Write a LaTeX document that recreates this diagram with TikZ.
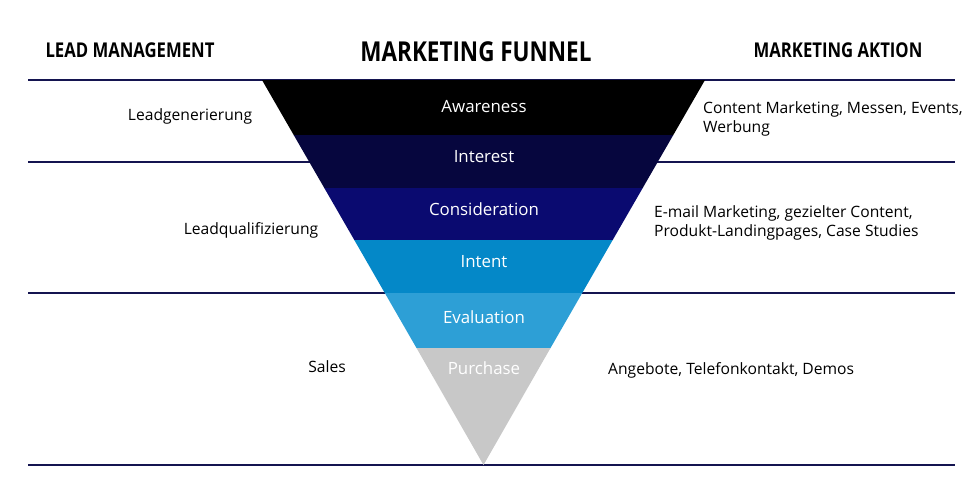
\documentclass[tikz,border=0pt]{standalone}
\usepackage{fontspec}
\setmainfont{Open Sans}
\newfontfamily\headfont[FakeStretch=0.82]{Open Sans Bold}
\usetikzlibrary{positioning}
\definecolor{rule}{RGB}{20,20,80}
\definecolor{awareness}{RGB}{0,0,0}
\definecolor{interest}{RGB}{6,6,62}
\definecolor{consider}{RGB}{10,10,112}
\definecolor{intent}{RGB}{4,136,200}
\definecolor{evaluation}{RGB}{45,159,214}
\definecolor{purchase}{RGB}{200,200,200}
\begin{document}
\begin{tikzpicture}[
    x=0.02cm, y=-0.02cm,
    head/.style={font=\headfont\fontsize{11.6}{13}\selectfont},
    stage/.style={text=white, font=\fontsize{9.6}{11}\selectfont},
    label/.style={font=\fontsize{8.9}{10.8}\selectfont, align=left},
    rulel/.style={draw=rule, line width=1.2pt}
]
\useasboundingbox (0,0) rectangle (980,484);

% Horizontal rules
\coordinate (r1a) at (28,80);  \coordinate (r1b) at (955,80);
\coordinate (r2a) at (28,162); \coordinate (r2b) at (955,162);
\coordinate (r3a) at (28,293); \coordinate (r3b) at (955,293);
\coordinate (r4a) at (28,465); \coordinate (r4b) at (955,465);
\draw[rulel] (r1a) -- (r1b);
\draw[rulel] (r2a) -- (r2b);
\draw[rulel] (r3a) -- (r3b);
\draw[rulel] (r4a) -- (r4b);

% Funnel bands
\fill[awareness] (262,80) -- (705,80) -- (673.3,135) -- (293.7,135) -- cycle;
\fill[interest] (293.7,135) -- (673.3,135) -- (642.7,188) -- (324.3,188) -- cycle;
\fill[consider] (324.3,188) -- (642.7,188) -- (612.7,240) -- (354.3,240) -- cycle;
\fill[intent] (354.3,240) -- (612.7,240) -- (582.2,293) -- (384.8,293) -- cycle;
\fill[evaluation] (384.8,293) -- (582.2,293) -- (550.5,348) -- (416.5,348) -- cycle;
\fill[purchase] (416.5,348) -- (550.5,348) -- (483.5,465) -- cycle;

% Stage names
\node[stage] (aware) at (484,107) {Awareness};
\node[stage] (inter) at (484,157) {Interest};
\node[stage] (consid) at (484,209) {Consideration};
\node[stage] (inten) at (484,262) {Intent};
\node[stage] (evalu) at (484,317) {Evaluation};
\node[stage] (purch) at (484,368) {Purchase};

% Headings
\node[head] (leadhead) at (130,50) {LEAD MANAGEMENT};
\node[head, font=\headfont\fontsize{15.6}{17}\selectfont] (funnelhead) at (476,52) {MARKETING FUNNEL};
\node[head] (aktionhead) at (838,50) {MARKETING AKTION};

% Lead management
\node[label] (leadgen) at (190,116) {Leadgenerierung};
\node[label] (leadqual) at (251,230) {Leadqualifizierung};
\node[label] (sales) at (327,367) {Sales};

% Marketing actions
\node[label, anchor=west] (act1) at (697,119) {Content Marketing, Messen, Events,\\Werbung};
\node[label, anchor=west] (act2) at (648,223) {E-mail Marketing, gezielter Content,\\Produkt-Landingpages, Case Studies};
\node[label, anchor=west] (act3) at (602,370) {Angebote, Telefonkontakt, Demos};

\end{tikzpicture}
\end{document}
